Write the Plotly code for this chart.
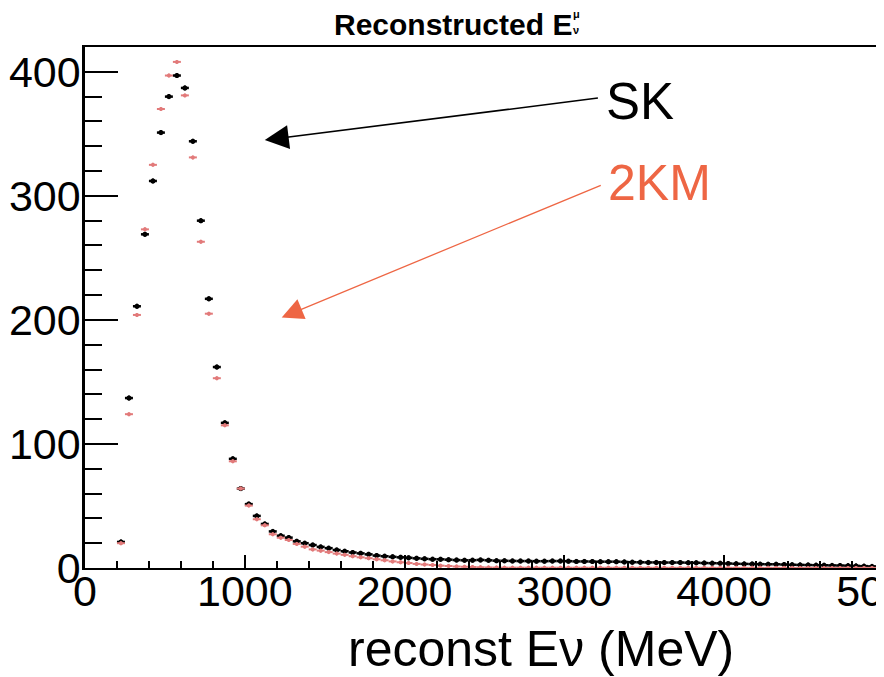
import plotly.graph_objects as go

# bin centres (MeV), 50 MeV bins
bin_centers = [225 + 50 * i for i in range(96)]
bin_half_width = 25

sk_counts = [21, 137, 211, 269, 312, 351, 380, 397, 387, 344,
             280, 217, 162, 117, 88, 64, 51.5, 42, 35.5, 29.5,
             26, 24.5, 21.5, 20, 18.5, 17, 16, 14.5, 13.5, 12.5,
             11.8, 11, 10, 9.5, 9, 8.6, 8.2, 7.8, 7.4, 7.1,
             7, 6.7, 6.4, 6.2, 6.3, 6.5, 6.2, 5.9, 5.8, 5.7,
             5.6, 5.6, 5.5, 5.5, 5.6, 5.6, 5.5, 5.3, 5.3, 5.2,
             5.1, 5.1, 5.1, 4.9, 4.7, 4.6, 4.5, 4.5, 4.4, 4.4,
             4.4, 4.3, 4.2, 4.0, 3.9, 3.8, 3.6, 3.4, 3.3, 3.2,
             3.1, 3.0, 3.0, 2.8, 2.6, 2.5, 2.4, 2.3, 2.2, 2.1,
             2.0, 1.9, 1.7, 1.5, 1.3, 1.1]

km2_counts = [20, 124, 204, 273, 325, 370, 397, 408, 381, 331,
              263, 205, 153, 115, 86, 64, 50.3, 39.3, 34.4, 27.2,
              24.4, 22.6, 19.4, 17.2, 15, 14, 12.8, 11.6, 10.6, 9.5,
              8.6, 7.9, 7, 6.2, 5.3, 4.6, 4, 3.3, 2.8, 2.4,
              1.9, 1.6, 1.2, 1.0, 0.8, 0.6, 0.45, 0.35, 0.3, 0.3,
              0.28, 0.27, 0.26, 0.25, 0.25, 0.24, 0.23, 0.22, 0.22, 0.21,
              0.2, 0.2, 0.2, 0.19, 0.19, 0.18, 0.18, 0.17, 0.17, 0.16,
              0.16, 0.15, 0.15, 0.15, 0.14, 0.14, 0.13, 0.13, 0.13, 0.12,
              0.12, 0.12, 0.11, 0.11, 0.11, 0.1, 0.1, 0.1, 0.1, 0.1,
              0.1, 0.1, 0.1, 0.1, 0.1, 0.1]

x_ticks = [0, 1000, 2000, 3000, 4000, 5000]
x_tick_labels = ["0", "1000", "2000", "3000", "4000", "5000"]
y_ticks = [0, 100, 200, 300, 400]
y_tick_labels = ["0", "100", "200", "300", "400"]

BLACK = "#000000"
PINK = "#E27A7A"
ORANGE = "#EE6644"
FONT = "Liberation Sans, Arial, Helvetica, sans-serif"

fig = go.Figure()

fig.add_trace(go.Scatter(
    x=bin_centers, y=sk_counts, mode="markers", name="SK",
    marker=dict(color=BLACK, size=5, symbol="circle"),
    error_x=dict(type="constant", value=bin_half_width, color=BLACK, thickness=2.5, width=0),
    error_y=dict(type="constant", value=2, color=BLACK, thickness=2, width=0),
    showlegend=False,
))
fig.add_trace(go.Scatter(
    x=bin_centers, y=km2_counts, mode="markers", name="2KM",
    marker=dict(color=PINK, size=4, symbol="circle"),
    error_x=dict(type="constant", value=bin_half_width, color=PINK, thickness=2, width=0),
    error_y=dict(type="constant", value=1.6, color=PINK, thickness=1.5, width=0),
    showlegend=False,
))

# page body has an 8px margin: figure is offset by (8, 8)
fig.update_layout(
    width=876, height=669,
    margin=dict(l=77, r=0, t=39, b=109),
    paper_bgcolor="white", plot_bgcolor="white",
    font=dict(family=FONT, color=BLACK),
)

fig.update_xaxes(
    range=[0, 5000], showgrid=False, zeroline=False, automargin=False,
    showline=True, linecolor=BLACK, linewidth=2, mirror=True,
    ticks="inside", ticklen=13, tickwidth=1.5, tickcolor=BLACK,
    tickvals=x_ticks, ticktext=x_tick_labels,
    tickfont=dict(size=43, family=FONT, color=BLACK),
    ticklabelstandoff=-16, ticklabeloverflow="allow",
    minor=dict(dtick=200, ticks="inside", ticklen=7, tickwidth=1.5, tickcolor=BLACK),
)
fig.update_yaxes(
    range=[0, 420], showgrid=False, zeroline=False, automargin=False,
    showline=True, linecolor=BLACK, linewidth=2.5, mirror=True,
    ticks="inside", ticklen=33, tickwidth=1.5, tickcolor=BLACK,
    tickvals=y_ticks, ticktext=y_tick_labels,
    tickfont=dict(size=43, family=FONT, color=BLACK),
    ticklabelstandoff=-7,
    minor=dict(dtick=20, ticks="inside", ticklen=17, tickwidth=1.5, tickcolor=BLACK),
)

def px_x(p):
    return (p - 85) / 799

def px_y(p):
    return (568 - p) / 521

annotations = [
    # title
    dict(text="<b>Reconstructed E</b>", xref="paper", yref="paper",
         x=px_x(453), y=px_y(24), xanchor="center", yanchor="middle",
         showarrow=False, font=dict(size=30, family=FONT, color=BLACK)),
    dict(text="<b>μ</b>", xref="paper", yref="paper",
         x=px_x(571), y=px_y(14), xanchor="left", yanchor="middle",
         showarrow=False, font=dict(size=11, family=FONT, color=BLACK)),
    dict(text="<b>ν</b>", xref="paper", yref="paper",
         x=px_x(571), y=px_y(30), xanchor="left", yanchor="middle",
         showarrow=False, font=dict(size=11, family=FONT, color=BLACK)),
    # x-axis title
    dict(text="reconst Eν (MeV)", xref="paper", yref="paper",
         x=px_x(541), y=px_y(649), xanchor="center", yanchor="middle",
         showarrow=False, font=dict(size=50, family=FONT, color=BLACK)),
    # labels
    dict(text="SK", xref="paper", yref="paper",
         x=px_x(604), y=px_y(101), xanchor="left", yanchor="middle",
         showarrow=False, font=dict(size=51, family=FONT, color=BLACK)),
    dict(text="2KM", xref="paper", yref="paper",
         x=px_x(606), y=px_y(183), xanchor="left", yanchor="middle",
         showarrow=False, font=dict(size=50, family=FONT, color=ORANGE)),
    # arrows
    dict(x=1125, y=345, ax=3219, ay=379, xref="x", yref="y", axref="x", ayref="y",
         text="", showarrow=True, arrowhead=2, arrowsize=3.2, arrowwidth=1.5,
         arrowcolor=BLACK),
    dict(x=1231, y=202, ax=3237, ay=309, xref="x", yref="y", axref="x", ayref="y",
         text="", showarrow=True, arrowhead=2, arrowsize=3.3, arrowwidth=1.3,
         arrowcolor=ORANGE),
]
fig.update_layout(annotations=annotations)

fig.write_html("out.html")
